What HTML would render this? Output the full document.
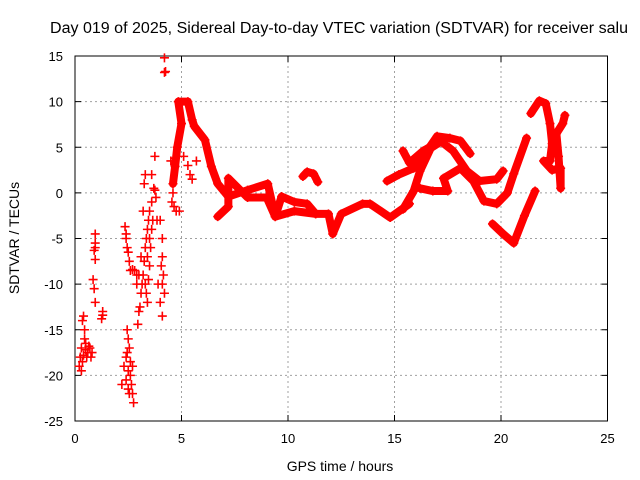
<!DOCTYPE html>
<html><head><meta charset="utf-8">
<style>
body{margin:0;background:#fff;}
svg{display:block;font-family:"Liberation Sans",sans-serif;}
</style></head>
<body>
<svg id="chart" width="640" height="480">
<text x="339" y="33" font-size="15.3" text-anchor="middle" textLength="578" lengthAdjust="spacingAndGlyphs">Day 019 of 2025, Sidereal Day-to-day VTEC variation (SDTVAR) for receiver salu</text>
<g id="grid"></g>
<g id="axes"></g>
<g id="marks"></g>
<text x="340" y="471" font-size="14" text-anchor="middle">GPS time / hours</text>
<text transform="translate(19,238) rotate(-90)" font-size="14" text-anchor="middle">SDTVAR / TECUs</text>
</svg>
<script>
const xTicks=[0,5,10,15,20,25];
const yTicks=[-25,-20,-15,-10,-5,0,5,10,15];
// scattered points [hour, value]
const scatterPts=[[0.2,-19],[0.25,-18],[0.3,-17],[0.35,-14],[0.4,-13.5],[0.45,-15],[0.5,-16.5],[0.6,-17.5],[0.7,-17],[0.8,-17.5],[0.55,-18],[0.4,-17.8],[0.5,-17.2],[0.65,-16.8],[0.75,-18],[0.45,-16],[0.35,-18.5],[0.3,-19.5],
[0.95,-4.5],[0.95,-5.5],[0.95,-6],[0.9,-6.3],[0.95,-7.3],[0.9,-10.5],[0.95,-12],[0.85,-9.5],[1.3,-13.4],[1.25,-13.8],[1.3,-13],
[2.2,-21],[2.3,-19],[2.4,-18],[2.5,-16],[2.6,-20],[2.7,-22],[2.75,-23],[2.5,-21.5],[2.45,-15],[2.55,-17],[2.6,-18.5],[2.5,-19.5],[2.65,-21],[2.4,-20.5],[2.55,-22],[2.45,-17.5],[2.7,-19],
[2.35,-3.7],[2.4,-4.5],[2.4,-5],[2.45,-6],[2.5,-6.5],[2.55,-7.5],[2.6,-8.5],[2.7,-8.4],[2.8,-8.5],[2.9,-9],[2.9,-10],
[2.95,-14.4],[3.0,-13],[3.05,-12.5],[3.1,-11],[3.15,-10],[3.2,-9],[3.25,-7.5],[3.3,-6],[3.35,-5],[3.4,-4],[3.45,-3],[3.5,-2],[3.6,-1],[3.75,0.3],[3.8,-0.5],[3.3,-10],[3.4,-12],[3.5,-8],[3.45,-9.5],[3.35,-11],[3.55,-6],[3.6,-4],[3.2,-2],[3.25,1],[3.3,2],[3.6,2],[3.75,4],[3.7,0.5],[3.65,-3],[3.5,-5],[3.4,-7],
[3.9,-10],[4.0,-12],[4.1,-13.5],[4.05,-8],[4.1,-5],[4.0,-3],[4.2,-11],[4.15,-9],[4.1,-7],[3.85,-3],[4.2,14.8],[4.2,13.2],[4.25,13.3],[4.1,-10],[3.0,-9],[3.1,-7],
[4.55,-1],[4.6,0],[4.65,-1.5],[4.7,3.8],[4.5,3.5],[4.75,-2],[4.9,-2],[5.1,4],[5.3,3],[5.4,2],[5.5,1.5],[5.7,3.5]];
// continuous tracks
const trackMain=[[4.6,1],[4.7,2.9],[4.8,5],[5.0,7.6],[4.85,10],[5.3,10],[5.5,8],[5.6,7.3],[6.1,5.8],[6.4,2.9],[6.7,1],[7.2,-0.4],[8.1,0.3],[9.05,1],[9.4,-2.6],[9.7,-0.4],[10.3,-1],[10.9,-1.2],[11.3,-2.3],[11.9,-2.3],[12.1,-4.5],[12.5,-2.3],[13.5,-1.2],[13.85,-1.2],[14.8,-2.7],[15.7,-1.2]];
const trackLow=[[6.7,-2.6],[7.2,-1.5],[7.2,1.6],[8.1,-0.5],[9.0,-0.5],[9.4,-2.6],[10.3,-2],[11.3,-2.3]];
const trackBump=[[10.7,1.8],[10.9,2.3],[11.2,2.1],[11.4,1.2]];
const trackA=[[14.65,1.3],[15.2,2],[15.9,2.7],[16.5,4.5],[17,6.2],[17.6,6],[18.1,5.7],[18.55,4.3]];
const trackB=[[15.4,4.6],[15.7,3.3],[16.35,4.6],[17.15,5.7],[17.75,4.6],[18.4,2.4],[19,1.3],[19.8,1.5],[20.1,2.4]];
const trackC=[[15.4,-1.8],[15.9,0.2],[16.2,2.4],[16.7,4.9],[17.1,5.5]];
const trackD=[[16.2,0.5],[16.8,0.2],[17.5,0.2],[17.3,1.6],[18.1,2.7],[18.7,1.3],[19.2,-0.9],[19.8,-1.2],[20.3,0],[20.6,2.1],[21.2,6.0]];
const trackE=[[19.6,-3.4],[20.1,-4.5],[20.6,-5.5],[21.1,-2.5],[21.6,0.2]];
const trackF=[[21.4,8.7],[21.8,10.1],[22.1,9.8],[22.3,7.6],[22.4,5.4],[22.3,3.5],[22.0,3.5],[22.4,2.5],[22.8,2.7],[22.8,0.5],[22.7,4],[22.6,6.5],[22.9,7.6],[23.0,8.5]];
const tracks=[trackMain,trackLow,trackBump,trackA,trackB,trackC,trackD,trackE,trackF];

const X0=75,X1=607.5,Y0=56,Y1=421;
const xs=h=>X0+(h-0)/25*(X1-X0);
const ys=v=>Y0+(15-v)/40*(Y1-Y0);
const NS="http://www.w3.org/2000/svg";
function mk(t,a,p){const e=document.createElementNS(NS,t);for(const k in a)e.setAttribute(k,a[k]);p.appendChild(e);return e;}
const grid=document.getElementById('grid'),axes=document.getElementById('axes'),marks=document.getElementById('marks');
xTicks.forEach(t=>{
 if(t>0&&t<25){const g=mk('line',{x1:xs(t),x2:xs(t),y1:Y0,y2:Y1,stroke:'#a0a0a0','stroke-dasharray':'2,3'},grid);
 
 }
 mk('line',{x1:xs(t),x2:xs(t),y1:Y1,y2:Y1-6,stroke:'#000'},axes);
 mk('line',{x1:xs(t),x2:xs(t),y1:Y0,y2:Y0+6,stroke:'#000'},axes);
 const l=mk('text',{x:xs(t),y:Y1+22,'font-size':13,'text-anchor':'middle'},axes);l.textContent=t;
 
 
});
yTicks.forEach(t=>{
 if(t>-25&&t<15){const g=mk('line',{x1:X0,x2:X1,y1:ys(t),y2:ys(t),stroke:'#a0a0a0','stroke-dasharray':'2,3'},grid);
 
 }
 mk('line',{x1:X0,x2:X0+6,y1:ys(t),y2:ys(t),stroke:'#000'},axes);
 mk('line',{x1:X1,x2:X1-6,y1:ys(t),y2:ys(t),stroke:'#000'},axes);
 const l=mk('text',{x:X0-12,y:ys(t)+5,'font-size':13,'text-anchor':'end'},axes);l.textContent=t;
 
 
});
mk('rect',{x:X0,y:Y0,width:X1-X0,height:Y1-Y0,fill:'none',stroke:'#000'},axes);
function plus(h,v){const x=xs(h),y=ys(v);
 const p=mk('path',{d:`M${x-4.5},${y}H${x+4.5}M${x},${y-4.5}V${y+4.5}`,stroke:'#f00','stroke-width':1.6},marks);
 
 }
tracks.forEach(tr=>{
 const pl=mk('polyline',{points:tr.map(p=>xs(p[0])+','+ys(p[1])).join(' '),fill:'none',stroke:'#f00','stroke-width':8,'stroke-linejoin':'round','stroke-linecap':'round'},marks);
 
 
 tr.forEach(p=>plus(p[0],p[1]));
});
scatterPts.forEach(p=>plus(p[0],p[1]));
</script>
</body></html>
